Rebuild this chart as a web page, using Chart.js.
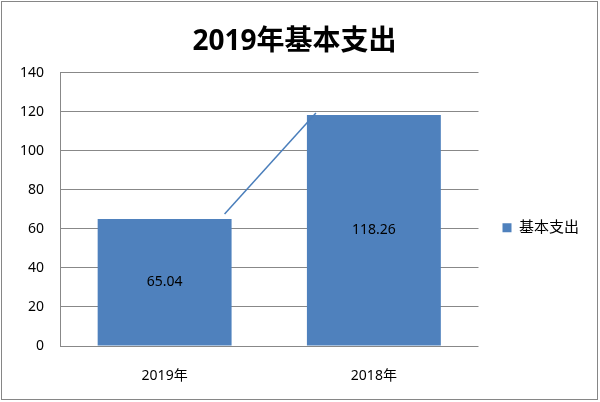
<!DOCTYPE html>
<html>
<head>
<meta charset="utf-8">
<script src="https://cdn.jsdelivr.net/npm/chart.js@4/dist/chart.umd.min.js"></script>
<style>
  body { margin: 0; background: #fff; }
  canvas { display: block; }
</style>
</head>
<body>
<canvas id="chart" width="600" height="402"></canvas>
<script>
// data
const categories = ['2019年', '2018年'];
const seriesName = '基本支出';
const values = [65.04, 118.26];
const yTicks = [0, 20, 40, 60, 80, 100, 120, 140];

const barColor = '#4F81BD';
const gridColor = '#888888';
const fontFamily = '"Noto Sans", "Noto Sans CJK SC", sans-serif';

// white page + thin grey frame round the whole chart
const framePlugin = {
    id: 'frame',
    beforeDraw(chart) {
        const c = chart.ctx;
        c.save();
        c.fillStyle = '#fff';
        c.fillRect(0, 0, chart.width, chart.height);
        c.strokeStyle = '#868686';
        c.lineWidth = 1;
        c.strokeRect(1.5, 1.5, chart.width - 4, chart.height - 4);
        c.restore();
    }
};

// value labels in the middle of each bar, and the series line between bars
const barExtras = {
    id: 'barExtras',
    afterDatasetsDraw(chart) {
        const c = chart.ctx;
        const bars = chart.getDatasetMeta(0).data;
        c.save();
        // series line
        if (bars.length > 1) {
            const a = bars[0], b = bars[1];
            c.strokeStyle = '#4A7EBB';
            c.lineWidth = 1.5;
            c.beginPath();
            c.moveTo(a.x + a.width / 2 - 7, a.y - 5);
            c.lineTo(b.x - b.width / 2 + 9, b.y - 2);
            c.stroke();
        }
        c.fillStyle = '#000';
        c.font = '14px ' + fontFamily;
        c.textAlign = 'center';
        c.textBaseline = 'middle';
        bars.forEach((bar, i) => {
            c.fillText(values[i].toFixed(2), bar.x, (bar.y + bar.base) / 2);
        });
        c.restore();
    }
};

const ctx = document.getElementById('chart').getContext('2d');
const chart = new Chart(ctx, {
    type: 'bar',
    data: {
        labels: categories,
        datasets: [{
            label: seriesName,
            data: values,
            backgroundColor: barColor,
            borderWidth: 0,
            categoryPercentage: 1,
            barPercentage: 0.64
        }]
    },
    options: {
        responsive: false,
        animation: false,
        devicePixelRatio: 1,
        layout: {
            padding: { left: 0, right: 11, top: 0, bottom: 0 }
        },
        plugins: {
            title: {
                display: true,
                text: '2019年基本支出',
                color: '#000',
                font: { family: fontFamily, size: 28, weight: 'bold', lineHeight: 1.2 },
                padding: { top: 25, bottom: 14 }
            },
            legend: {
                position: 'right',
                align: 'center',
                fullSize: false,
                title: {
                    display: true,
                    text: ' ',
                    font: { size: 10, lineHeight: 1.2 },
                    padding: { top: 12, bottom: 13 }
                },
                labels: {
                    boxWidth: 9,
                    boxHeight: 9,
                    padding: 24,
                    color: '#000',
                    font: { family: fontFamily, size: 15 }
                }
            },
            tooltip: { enabled: false }
        },
        scales: {
            x: {
                grid: { display: false, drawTicks: false },
                border: { display: false },
                ticks: {
                    color: '#000',
                    padding: 22,
                    font: { family: fontFamily, size: 14 }
                },
                afterFit(scale) { scale.height = 56; }
            },
            y: {
                min: yTicks[0],
                max: yTicks[yTicks.length - 1],
                grid: { color: gridColor, lineWidth: 1, drawTicks: false },
                border: { display: true, color: gridColor, width: 1 },
                ticks: {
                    stepSize: yTicks[1] - yTicks[0],
                    color: '#000',
                    padding: 16,
                    font: { family: fontFamily, size: 14 }
                },
                afterFit(scale) { scale.width = 60; }
            }
        }
    },
    plugins: [framePlugin, barExtras]
});
</script>
</body>
</html>
